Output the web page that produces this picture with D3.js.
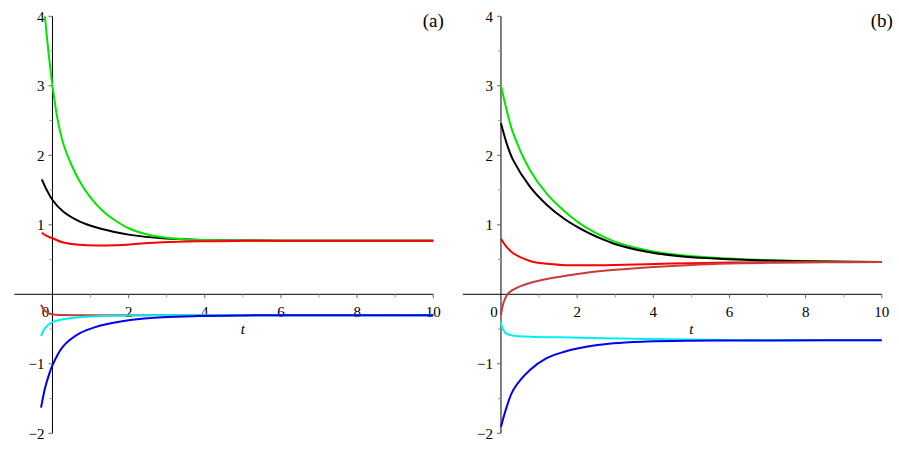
<!DOCTYPE html>
<html>
<head>
<meta charset="utf-8">
<script src="https://cdn.jsdelivr.net/npm/d3@7"></script>
<style>
  html, body { margin: 0; padding: 0; background: #fff; }
  svg { display: block; }
</style>
</head>
<body>
<svg id="chart" width="899" height="450"></svg>
<script>
// ---------- data (t, value) ----------
const xTicks = [0, 2, 4, 6, 8, 10];
const xMinorTicks = [1, 3, 5, 7, 9];
const yTicks = [-2, -1, 1, 2, 3, 4];
const yMinorTicks = [-1.5, -0.5, 0.5, 1.5, 2.5, 3.5];
const panelLabels = ["(a)", "(b)"];
const axisTitle = "t";

// panel (a)
const aGreen   = [[-0.2,4.0],[-0.1,3.46],[0,3.0],[0.15,2.47],[0.3,2.14],[0.5,1.86],[0.72,1.62],[1.0,1.39],[1.3,1.21],[1.6,1.08],[2.0,0.95],[2.5,0.86],[3.0,0.812],[3.5,0.79],[4,0.78],[5,0.772],[6,0.77],[10,0.77]];
const aBlack   = [[-0.28,1.655],[-0.15,1.5],[0,1.357],[0.28,1.19],[0.72,1.045],[1.16,0.96],[1.6,0.9],[2.04,0.855],[2.9,0.805],[4,0.781],[5,0.774],[6,0.771],[10,0.77]];
const aRed     = [[-0.28,0.886],[-0.15,0.84],[0,0.806],[0.28,0.745],[0.72,0.712],[1.16,0.702],[1.6,0.705],[2.04,0.718],[2.9,0.748],[3.8,0.763],[5,0.769],[6,0.77],[10,0.77]];
const aDarkRed = [[-0.3,-0.15],[-0.25,-0.2],[-0.18,-0.245],[-0.07,-0.28],[0.1,-0.294],[0.5,-0.3],[2,-0.3],[10,-0.3]];
const aCyan    = [[-0.3,-0.6],[-0.25,-0.535],[-0.2,-0.49],[-0.1,-0.435],[0,-0.4],[0.28,-0.36],[0.72,-0.33],[1.6,-0.31],[3,-0.302],[5,-0.3],[10,-0.3]];
const aBlue    = [[-0.3,-1.63],[-0.2,-1.36],[-0.1,-1.17],[0,-1.02],[0.28,-0.75],[0.72,-0.56],[1.16,-0.466],[1.6,-0.41],[2.04,-0.37],[2.9,-0.33],[3.8,-0.313],[5,-0.304],[6,-0.301],[10,-0.3]];

// panel (b)
const bGreen   = [[0,3.0],[0.15,2.65],[0.32,2.32],[0.76,1.79],[1.2,1.45],[1.64,1.21],[2.07,1.02],[2.5,0.88],[2.95,0.765],[3.83,0.635],[4.7,0.565],[5.5,0.53],[7,0.492],[8.5,0.474],[10,0.466]];
const bBlack   = [[0,2.46],[0.15,2.17],[0.32,1.93],[0.76,1.55],[1.2,1.29],[1.64,1.095],[2.07,0.95],[2.5,0.832],[2.95,0.732],[3.83,0.612],[4.7,0.548],[5.5,0.518],[7,0.485],[8.5,0.471],[10,0.465]];
const bRed     = [[0,0.8],[0.15,0.68],[0.32,0.59],[0.76,0.48],[1.2,0.438],[1.6,0.422],[2.07,0.417],[2.95,0.421],[3.83,0.434],[5,0.448],[6,0.456],[7,0.461],[8.5,0.464],[10,0.465]];
const bDarkRed = [[0,-0.3],[0.03,-0.2],[0.08,-0.1],[0.17,0],[0.3,0.06],[0.5,0.115],[0.8,0.17],[1.2,0.22],[1.7,0.268],[2.2,0.307],[3,0.352],[4,0.393],[5,0.423],[6,0.442],[7,0.453],[8.5,0.46],[10,0.463]];
const bCyan    = [[0,-0.39],[0.02,-0.46],[0.06,-0.51],[0.12,-0.555],[0.24,-0.585],[0.4,-0.6],[0.76,-0.61],[2.07,-0.624],[3.83,-0.643],[5.5,-0.655],[7,-0.66],[10,-0.662]];
const bBlue    = [[0,-1.905],[0.15,-1.62],[0.32,-1.38],[0.76,-1.09],[1.2,-0.92],[1.64,-0.83],[2.07,-0.772],[2.95,-0.705],[3.83,-0.68],[5,-0.668],[6,-0.664],[7,-0.663],[10,-0.662]];

const seriesColors = { green: "#00e600", black: "#000000", red: "#ff0000", darkRed: "#c83c3c", cyan: "#00f0f0", blue: "#0000ee" };

const panels = [
  { label: panelLabels[0], x0: 14.4, x1: 433.3,
    series: [[aBlack, "black"], [aGreen, "green"], [aRed, "red"], [aDarkRed, "darkRed"], [aCyan, "cyan"], [aBlue, "blue"]] },
  { label: panelLabels[1], x0: 462.9, x1: 881.8,
    series: [[bGreen, "green"], [bBlack, "black"], [bRed, "red"], [bDarkRed, "darkRed"], [bCyan, "cyan"], [bBlue, "blue"]] }
];

const FONT = "'Liberation Serif', 'Times New Roman', 'DejaVu Serif', serif";
const svg = d3.select("#chart");
const yTop = 16.3, yBot = 433.3;

panels.forEach(p => {
  const x = d3.scaleLinear().domain([-1, 10]).range([p.x0, p.x1]);
  const y = d3.scaleLinear().domain([-2, 4]).range([yBot, yTop]);
  const g = svg.append("g").attr("font-family", FONT);

  // x axis line
  g.append("line").attr("x1", x(-1)).attr("x2", x(10)).attr("y1", y(0)).attr("y2", y(0))
    .attr("stroke", "#000").attr("stroke-width", 1);
  // y axis line
  g.append("line").attr("x1", x(0)).attr("x2", x(0)).attr("y1", y(-2)).attr("y2", y(4))
    .attr("stroke", "#000").attr("stroke-width", 1);

  // x ticks
  g.selectAll(".xt").data(xTicks.filter(d => d !== 0)).enter().append("line")
    .attr("x1", d => x(d)).attr("x2", d => x(d)).attr("y1", y(0)).attr("y2", y(0) + 4)
    .attr("stroke", "#666").attr("stroke-width", 1);
  g.selectAll(".xm").data(xMinorTicks).enter().append("line")
    .attr("x1", d => x(d)).attr("x2", d => x(d)).attr("y1", y(0)).attr("y2", y(0) + 3)
    .attr("stroke", "#999").attr("stroke-width", 1);
  g.selectAll(".xl").data(xTicks).enter().append("text")
    .attr("x", d => x(d) + (d === 0 ? -7 : 0)).attr("y", y(0) + 23)
    .attr("text-anchor", "middle").attr("font-size", 15).attr("font-family", FONT)
    .text(d => d);

  // y ticks
  g.selectAll(".yt").data(yTicks).enter().append("line")
    .attr("x1", x(0) - 4).attr("x2", x(0)).attr("y1", d => y(d)).attr("y2", d => y(d))
    .attr("stroke", "#666").attr("stroke-width", 1);
  g.selectAll(".ym").data(yMinorTicks).enter().append("line")
    .attr("x1", x(0) - 3).attr("x2", x(0)).attr("y1", d => y(d)).attr("y2", d => y(d))
    .attr("stroke", "#999").attr("stroke-width", 1);
  g.selectAll(".yl").data(yTicks).enter().append("text")
    .attr("x", x(0) - 8).attr("y", d => y(d)).attr("dy", "0.35em")
    .attr("text-anchor", "end").attr("font-size", 15).attr("font-family", FONT)
    .text(d => d < 0 ? "\u2212" + Math.abs(d) : d);

  // axis title
  g.append("text").attr("x", x(5)).attr("y", y(0) + 40)
    .attr("text-anchor", "middle").attr("font-size", 15).attr("font-style", "italic")
    .attr("font-family", FONT)
    .text(axisTitle);

  // panel label
  g.append("text").attr("x", x(10)).attr("y", 27)
    .attr("text-anchor", "middle").attr("font-size", 19).attr("font-family", FONT)
    .text(p.label);

  // curves
  const line = d3.line().x(d => x(d[0])).y(d => y(d[1])).curve(d3.curveCatmullRom.alpha(0.5));
  p.series.forEach(([data, c]) => {
    g.append("path").datum(data).attr("d", line)
      .attr("fill", "none").attr("stroke", seriesColors[c]).attr("stroke-width", 2);
  });
});
</script>
</body>
</html>
